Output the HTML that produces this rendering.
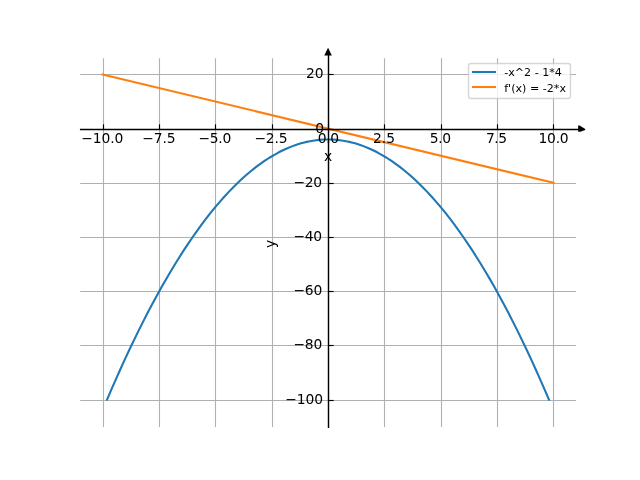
<!DOCTYPE html>
<html lang="en">
<head>
<meta charset="utf-8">
<title>Function plot</title>
<style>
html,body{margin:0;padding:0;background:#ffffff;}
body{width:640px;height:480px;overflow:hidden;font-family:"DejaVu Sans","Liberation Sans",sans-serif;}
svg{display:block;}
text{white-space:pre;}
</style>
</head>
<body>
<svg width="640" height="480" viewBox="0 0 640 480">
<rect x="0" y="0" width="640" height="480" fill="#ffffff"/>
<g stroke="#b0b0b0" stroke-width="1.1" fill="none">
<path d="M103.5 58.2V427"/>
<path d="M159.5 58.2V427"/>
<path d="M215.5 58.2V427"/>
<path d="M272.5 58.2V427"/>
<path d="M328.5 58.2V427"/>
<path d="M384.5 58.2V427"/>
<path d="M441.5 58.2V427"/>
<path d="M497.5 58.2V427"/>
<path d="M553.5 58.2V427"/>
<path d="M80.2 74.5H576"/>
<path d="M80.2 129.5H576"/>
<path d="M80.2 183.5H576"/>
<path d="M80.2 237.5H576"/>
<path d="M80.2 291.5H576"/>
<path d="M80.2 345.5H576"/>
<path d="M80.2 400.5H576"/>
</g>
<polyline points="107.05,399.67 111.56,389.16 116.07,378.86 120.58,368.78 125.09,358.92 129.60,349.27 134.11,339.84 138.62,330.63 143.13,321.63 147.64,312.85 152.15,304.29 156.65,295.94 161.16,287.81 165.67,279.90 170.18,272.21 174.69,264.73 179.20,257.47 183.71,250.42 188.22,243.59 192.73,236.98 197.24,230.59 201.75,224.41 206.25,218.45 210.76,212.70 215.27,207.17 219.78,201.86 224.29,196.77 228.80,191.89 233.31,187.23 237.82,182.79 242.33,178.56 246.84,174.55 251.35,170.76 255.85,167.18 260.36,163.82 264.87,160.68 269.38,157.75 273.89,155.04 278.40,152.55 282.91,150.27 287.42,148.21 291.93,146.37 296.44,144.74 300.95,143.33 305.45,142.14 309.96,141.17 314.47,140.41 318.98,139.87 323.49,139.54 328.00,139.43 332.51,139.54 337.02,139.87 341.53,140.41 346.04,141.17 350.55,142.14 355.05,143.33 359.56,144.74 364.07,146.37 368.58,148.21 373.09,150.27 377.60,152.55 382.11,155.04 386.62,157.75 391.13,160.68 395.64,163.82 400.15,167.18 404.65,170.76 409.16,174.55 413.67,178.56 418.18,182.79 422.69,187.23 427.20,191.89 431.71,196.77 436.22,201.86 440.73,207.17 445.24,212.70 449.75,218.45 454.25,224.41 458.76,230.59 463.27,236.98 467.78,243.59 472.29,250.42 476.80,257.47 481.31,264.73 485.82,272.21 490.33,279.90 494.84,287.81 499.35,295.94 503.85,304.29 508.36,312.85 512.87,321.63 517.38,330.63 521.89,339.84 526.40,349.27 530.91,358.92 535.42,368.78 539.93,378.86 544.44,389.16 548.95,399.67" fill="none" stroke="#1f77b4" stroke-width="2.083" stroke-linecap="square" stroke-linejoin="round"/>
<path d="M102.55 74.40L553.45 182.79" fill="none" stroke="#ff7f0e" stroke-width="2.083" stroke-linecap="square"/>
<g stroke="#000000" stroke-width="1.15" fill="none">
<path d="M103.5 124.34V129.5"/>
<path d="M159.5 124.34V129.5"/>
<path d="M215.5 124.34V129.5"/>
<path d="M272.5 124.34V129.5"/>
<path d="M328.5 124.34V129.5"/>
<path d="M384.5 124.34V129.5"/>
<path d="M441.5 124.34V129.5"/>
<path d="M497.5 124.34V129.5"/>
<path d="M553.5 124.34V129.5"/>
<path d="M328.5 74.5H333.66"/>
<path d="M328.5 129.5H333.66"/>
<path d="M328.5 183.5H333.66"/>
<path d="M328.5 237.5H333.66"/>
<path d="M328.5 291.5H333.66"/>
<path d="M328.5 345.5H333.66"/>
<path d="M328.5 400.5H333.66"/>
</g>
<g stroke="#000000" stroke-width="1.42" fill="none">
<path d="M79.92 129.5H579"/>
<path d="M328.5 428.08V55"/>
</g>
<polygon points="578.15,125.4 579.6,125.4 585.25,129.0 585.25,129.95 580.3,131.75 578.15,131.75" fill="#000000"/>
<polygon points="328.05,47.7 331.85,55.45 324.25,55.45" fill="#000000"/>
<g style="font-family:'DejaVu Sans','Liberation Sans',sans-serif;font-size:13.889px" fill="#000000">
<text x="102.30" y="142.51" text-anchor="middle" letter-spacing="-0.10">−10.0</text>
<text x="158.91" y="142.51" text-anchor="middle" letter-spacing="-0.10">−7.5</text>
<text x="214.77" y="142.51" text-anchor="middle" letter-spacing="-0.30">−5.0</text>
<text x="270.89" y="142.51" text-anchor="middle" letter-spacing="-0.20">−2.5</text>
<text x="328.25" y="143.01" text-anchor="middle" letter-spacing="-0.30">0.0</text>
<text x="384.11" y="142.51" text-anchor="middle" letter-spacing="0.10">2.5</text>
<text x="440.23" y="142.51" text-anchor="middle" letter-spacing="-0.40">5.0</text>
<text x="496.34" y="142.51" text-anchor="middle" letter-spacing="-0.40">7.5</text>
<text x="553.45" y="142.51" text-anchor="middle" letter-spacing="-0.30">10.0</text>
<text x="328.00" y="160.71" text-anchor="middle">x</text>
<text x="322.89" y="403.64" text-anchor="end" letter-spacing="-0.10">−100</text>
<text x="322.14" y="348.70" text-anchor="end" letter-spacing="-0.20">−80</text>
<text x="322.14" y="294.51" text-anchor="end" letter-spacing="-0.20">−60</text>
<text x="321.64" y="240.56" text-anchor="end" letter-spacing="-0.40">−40</text>
<text x="321.64" y="186.62" text-anchor="end" letter-spacing="-0.40">−20</text>
<text x="324.14" y="132.68" text-anchor="end">0</text>
<text x="323.39" y="77.73" text-anchor="end" letter-spacing="-0.20">20</text>
<text x="274.66" y="243.90" text-anchor="middle" transform="rotate(-90 274.66 243.90)">y</text>
</g>
<rect x="468.5" y="63.5" width="102" height="35" rx="2.2" ry="2.2" fill="#ffffff" stroke="#cccccc" stroke-width="1.39" opacity="0.8"/>
<rect x="471.97" y="70.97" width="24.07" height="2.07" fill="#1f77b4"/>
<rect x="471.97" y="85.97" width="24.07" height="2.07" fill="#ff7f0e"/>
<g style="font-family:'DejaVu Sans','Liberation Sans',sans-serif;font-size:11.111px" fill="#000000">
<text x="504.20" y="75.54">-x^2 - 1*4</text>
<text x="504.20" y="91.60">f'(x) = -2*x</text>
</g>
</svg>
</body>
</html>
